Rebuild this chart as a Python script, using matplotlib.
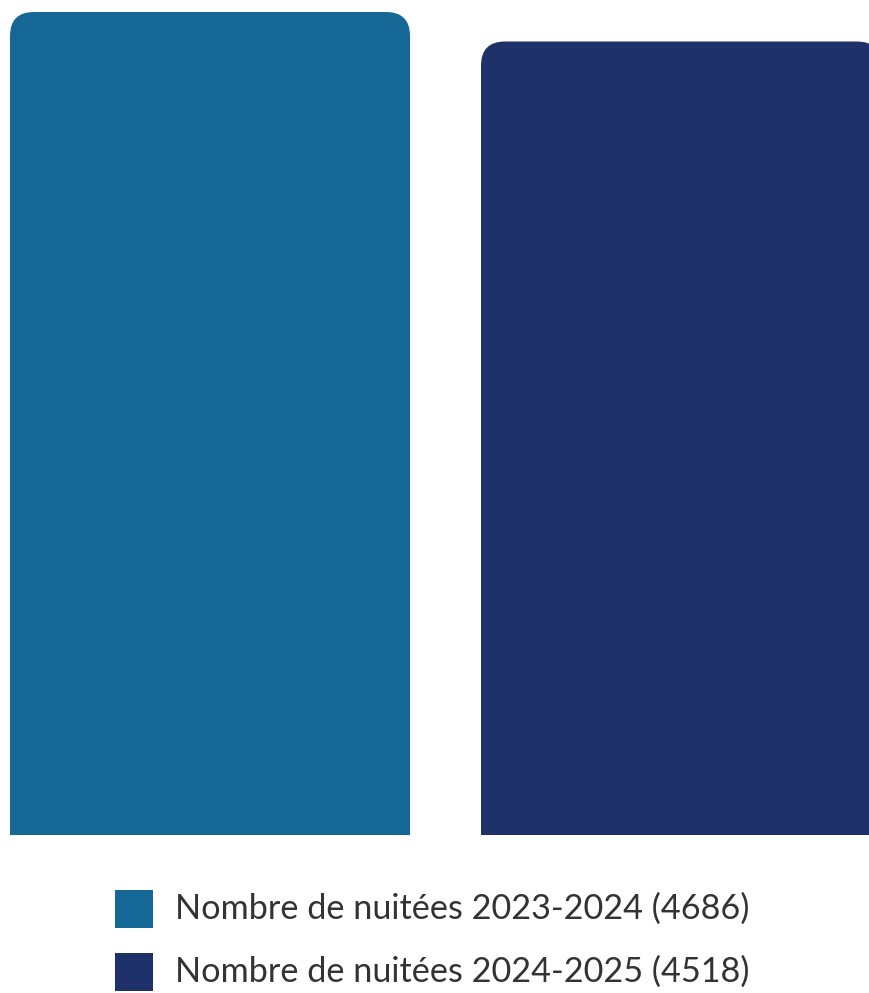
import matplotlib
matplotlib.use('Agg')
import matplotlib.pyplot as plt
from matplotlib.patches import FancyBboxPatch, Rectangle

# data
seasons = ['2023-2024', '2024-2025']
nuitees = [4686, 4518]
colors = ['#156896', '#1f316b']

W, H = 870, 993
fig = plt.figure(figsize=(W / 100, H / 100), dpi=100)

# axes: full width, baseline at y=835px, top at figure top
base_px = 835
ax = fig.add_axes([0, (H - base_px) / H, 1, base_px / H])
ax.axis('off')

px_per_unit = 471.0          # x pixels per category step
x0_px = 210.0                # center of first bar in pixels
ax.set_xlim(-x0_px / px_per_unit, (W - x0_px) / px_per_unit)
ymax = nuitees[0] * base_px / 823.0
ax.set_ylim(0, ymax)

bar_w = 400 / px_per_unit
r = 24 / px_per_unit
aspect = (ymax / base_px) / (1 / px_per_unit)

for i, (v, c) in enumerate(zip(nuitees, colors)):
    bottom = -3 * r * aspect
    p = FancyBboxPatch((i - bar_w / 2, bottom), bar_w, v - bottom,
                       boxstyle='round,pad=0,rounding_size=%f' % r,
                       mutation_aspect=aspect, facecolor=c, edgecolor='none')
    ax.add_patch(p)

# legend
for i, (s, v, c) in enumerate(zip(seasons, nuitees, colors)):
    yc = 909 + i * 63
    fig.add_artist(Rectangle((115 / W, (H - yc - 19) / H), 38 / W, 38 / H,
                             transform=fig.transFigure, facecolor=c, edgecolor='none'))
    fig.text(175 / W, (H - yc) / H, 'Nombre de nuitées %s (%d)' % (s, v),
             fontsize=24.7, family='Lato', color='#333333', va='center', ha='left')

plt.savefig('out.png', dpi=100)
